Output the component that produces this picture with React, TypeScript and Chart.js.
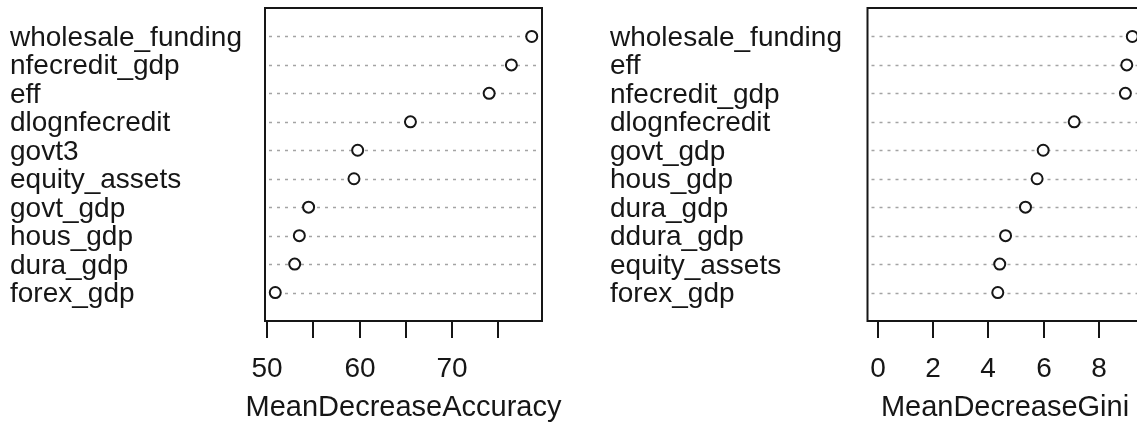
import { useEffect, useRef } from "react";
import { Chart, registerables } from "chart.js";

Chart.register(...registerables);

// Mean decrease in accuracy, ordered top to bottom
const accuracyVars = [
  "wholesale_funding",
  "nfecredit_gdp",
  "eff",
  "dlognfecredit",
  "govt3",
  "equity_assets",
  "govt_gdp",
  "hous_gdp",
  "dura_gdp",
  "forex_gdp",
];
const accuracyValues = [78.6, 76.4, 74.0, 65.5, 59.8, 59.4, 54.5, 53.5, 53.0, 50.9];
const accuracyTicks = [50, 55, 60, 65, 70, 75];
const accuracyTickLabels = ["50", "", "60", "", "70", ""];

// Mean decrease in Gini impurity, ordered top to bottom
const giniVars = [
  "wholesale_funding",
  "eff",
  "nfecredit_gdp",
  "dlognfecredit",
  "govt_gdp",
  "hous_gdp",
  "dura_gdp",
  "ddura_gdp",
  "equity_assets",
  "forex_gdp",
];
const giniValues = [9.2, 9.0, 8.95, 7.1, 5.98, 5.76, 5.34, 4.62, 4.41, 4.34];
const giniTicks = [0, 2, 4, 6, 8];
const giniTickLabels = ["0", "2", "4", "6", "8"];

const FONT = "'Liberation Sans', Arial, sans-serif";
const INK = "#161616";

type PanelSpec = {
  vars: string[];
  values: number[];
  ticks: number[];
  tickLabels: string[];
  title: string;
  xmin: number;
  labelX: number;
  width: number;
  padding: { left: number; right: number; top: number; bottom: number };
};

// dotchart-style frame: dotted row lines, box, bottom axis, row labels
const dotFrame = {
  id: "dotFrame",
  beforeDatasetsDraw(chart: any, _args: any, opts: any) {
    const { ctx, chartArea } = chart;
    const y = chart.scales.y;
    ctx.save();
    ctx.strokeStyle = "#a4a4a4";
    ctx.lineWidth = 1.5;
    ctx.setLineDash([3, 5]);
    opts.vars.forEach((_: string, i: number) => {
      const py = Math.round(y.getPixelForValue(opts.vars.length - i)) + 0.5;
      ctx.beginPath();
      ctx.moveTo(chartArea.left + 4, py);
      ctx.lineTo(chartArea.right - 2, py);
      ctx.stroke();
    });
    ctx.restore();
  },
  afterDatasetsDraw(chart: any, _args: any, opts: any) {
    const { ctx, chartArea } = chart;
    const x = chart.scales.x;
    const y = chart.scales.y;
    ctx.save();
    ctx.strokeStyle = INK;
    ctx.lineWidth = 2;
    ctx.setLineDash([]);
    ctx.strokeRect(chartArea.left, chartArea.top, chartArea.right - chartArea.left, chartArea.bottom - chartArea.top);

    // bottom axis ticks and labels
    ctx.fillStyle = INK;
    ctx.font = `28px ${FONT}`;
    ctx.textAlign = "center";
    ctx.textBaseline = "alphabetic";
    opts.ticks.forEach((t: number, i: number) => {
      const px = Math.round(x.getPixelForValue(t));
      ctx.beginPath();
      ctx.moveTo(px, chartArea.bottom);
      ctx.lineTo(px, chartArea.bottom + 17);
      ctx.stroke();
      if (opts.tickLabels[i]) ctx.fillText(opts.tickLabels[i], px, chartArea.bottom + 56);
    });

    // axis title
    ctx.font = `29px ${FONT}`;
    ctx.fillText(opts.title, (chartArea.left + chartArea.right) / 2, chartArea.bottom + 95);

    // row labels
    ctx.font = `28px ${FONT}`;
    ctx.textAlign = "left";
    opts.vars.forEach((name: string, i: number) => {
      const py = y.getPixelForValue(opts.vars.length - i);
      ctx.fillText(name, opts.labelX, py + 9.5);
    });
    ctx.restore();
  },
};

function DotPanel({ spec, left }: { spec: PanelSpec; left: number }) {
  const ref = useRef<HTMLCanvasElement | null>(null);

  useEffect(() => {
    const canvas = ref.current;
    if (!canvas) return;
    const lo = spec.xmin;
    const hi = Math.max(...spec.values);
    const ext = (hi - lo) * 0.04;
    const n = spec.vars.length;
    const chart = new Chart(canvas, {
      type: "scatter",
      data: {
        datasets: [
          {
            data: spec.values.map((v, i) => ({ x: v, y: n - i })),
            pointRadius: 5.5,
            pointHoverRadius: 5.5,
            pointBorderWidth: 2,
            pointBorderColor: INK,
            pointBackgroundColor: "#ffffff",
            showLine: false,
            clip: false as any,
          },
        ],
      },
      options: {
        responsive: false,
        animation: false,
        devicePixelRatio: 1,
        layout: { padding: spec.padding },
        events: [],
        plugins: {
          legend: { display: false },
          tooltip: { enabled: false },
          dotFrame: {
            vars: spec.vars,
            ticks: spec.ticks,
            tickLabels: spec.tickLabels,
            title: spec.title,
            labelX: spec.labelX,
          },
        } as any,
        scales: {
          x: { type: "linear", min: lo - ext, max: hi + ext, display: false },
          y: { type: "linear", min: 0, max: n + 1, display: false },
        },
      },
      plugins: [dotFrame],
    });
    return () => chart.destroy();
  }, [spec]);

  return (
    <canvas
      ref={ref}
      width={spec.width}
      height={427}
      style={{ position: "absolute", left, top: 0, width: spec.width, height: 427 }}
    />
  );
}

const accuracySpec: PanelSpec = {
  vars: accuracyVars,
  values: accuracyValues,
  ticks: accuracyTicks,
  tickLabels: accuracyTickLabels,
  title: "MeanDecreaseAccuracy",
  xmin: Math.min(...accuracyValues),
  labelX: 10,
  width: 570,
  padding: { left: 265, right: 28, top: 8, bottom: 106 },
};

const giniSpec: PanelSpec = {
  vars: giniVars,
  values: giniValues,
  ticks: giniTicks,
  tickLabels: giniTickLabels,
  title: "MeanDecreaseGini",
  xmin: 0,
  labelX: 40,
  width: 580,
  padding: { left: 297.5, right: 7.2, top: 8, bottom: 106 },
};

export default function App() {
  return (
    <div
      style={{
        position: "fixed",
        left: 0,
        top: 0,
        width: 1137,
        height: 427,
        overflow: "hidden",
        background: "#ffffff",
      }}
    >
      <DotPanel spec={accuracySpec} left={0} />
      <DotPanel spec={giniSpec} left={570} />
    </div>
  );
}
